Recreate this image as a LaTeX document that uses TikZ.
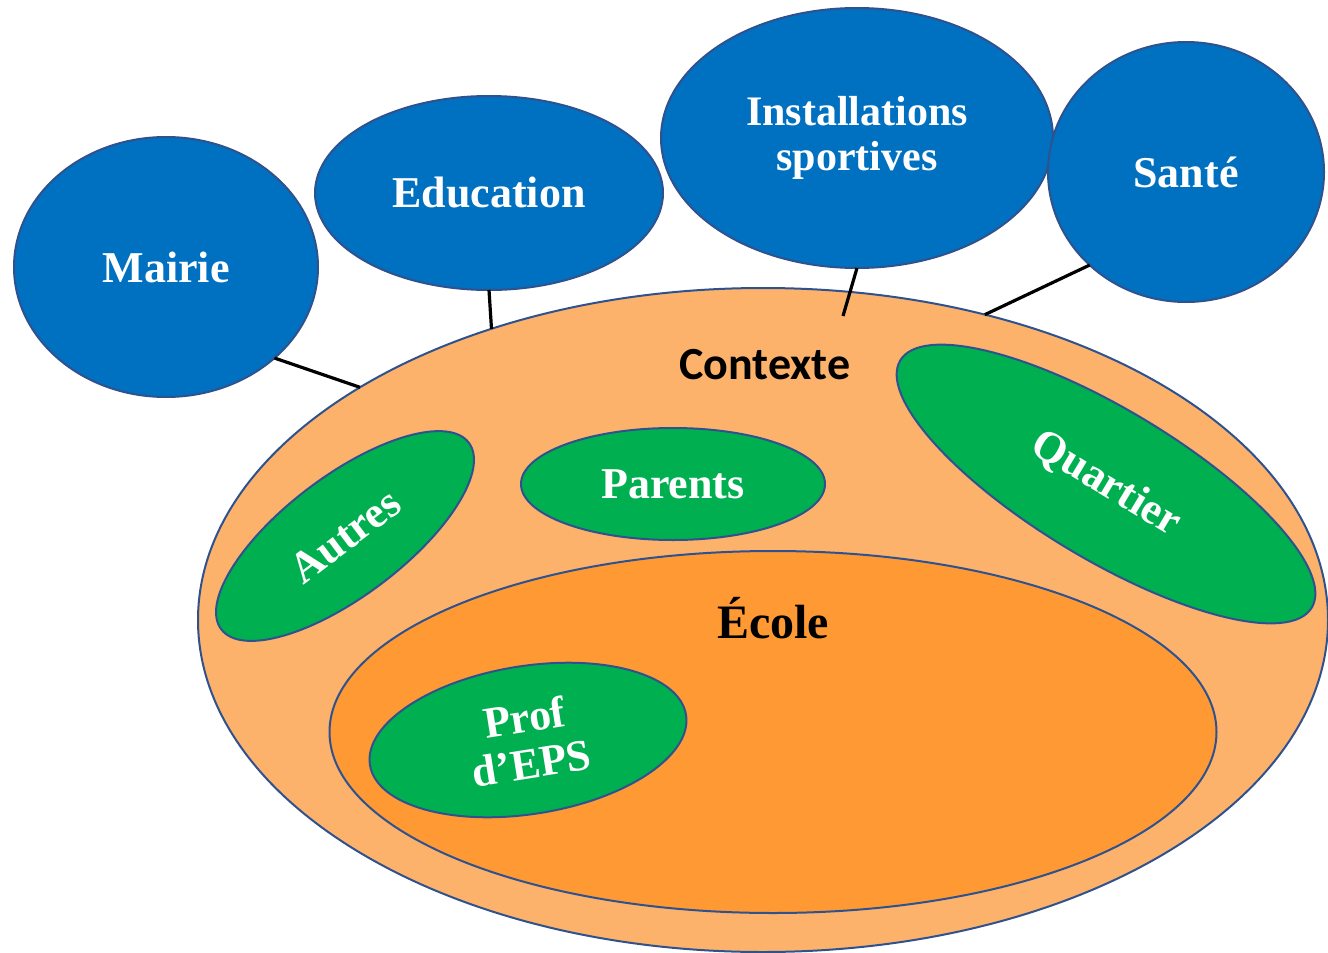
\documentclass[tikz,border=0pt]{standalone}
\usepackage{fontspec}
\setmainfont{Liberation Serif}
\newfontfamily\ctxfont{Carlito}
\usetikzlibrary{shapes.geometric}
\definecolor{bluefill}{HTML}{0070C0}
\definecolor{edgeblue}{HTML}{2F528F}
\definecolor{lightorange}{HTML}{FCB26A}
\definecolor{darkorange}{HTML}{FF9933}
\definecolor{greenfill}{HTML}{00B050}
\tikzset{
  blob/.style={ellipse, draw=edgeblue, line width=1pt, inner sep=0pt, outer sep=0pt,
    text=white, font=\bfseries\fontsize{22}{23}\selectfont, align=center},
  bluebubble/.style={blob, fill=bluefill},
  greenbubble/.style={blob, fill=greenfill},
  link/.style={draw=black, line width=1.6pt},
}
\begin{document}
\begin{tikzpicture}[x=0.5pt, y=-0.5pt]
\useasboundingbox (0,0) rectangle (1328,953);
\clip (0,0) rectangle (1328,953);
% context and school
\node[blob, fill=lightorange, minimum width=565pt, minimum height=332pt] (ctx) at (763,620) {};
\node[blob, fill=darkorange, minimum width=443.5pt, minimum height=181pt] (ecole) at (773,732) {};
\node[font=\ctxfont\bfseries\fontsize{23}{25}\selectfont, text=black] (ctxlabel) at (765,365) {Contexte};
\node[font=\bfseries\fontsize{24}{26}\selectfont, text=black] (ecolelabel) at (773,618) {École};
% green actors
\node[greenbubble, minimum width=160pt, minimum height=74pt, rotate=9] (prof) at (528,740) {Prof\\d’EPS};
\node[greenbubble, minimum width=152pt, minimum height=56pt] (parents) at (673,484) {Parents};
\node[greenbubble, minimum width=155pt, minimum height=60pt, rotate=37] (autres) at (345,536) {Autres};
\node[greenbubble, minimum width=240pt, minimum height=75pt, rotate=-31] (quartier) at (1106,484) {Quartier};
% blue partners
\node[bluebubble, minimum width=152pt, minimum height=130pt] (mairie) at (166,267) {Mairie};
\node[bluebubble, minimum width=174pt, minimum height=97pt] (education) at (489,193) {Education};
\node[bluebubble, minimum width=196pt, minimum height=130pt, font=\bfseries\fontsize{21}{22.5}\selectfont] (install) at (857,138) {Installations\\sportives};
\node[bluebubble, minimum width=138pt, minimum height=130pt] (sante) at (1186,172) {Santé};
% connectors
\coordinate (installend) at (843,316);
\draw[link] (mairie.-40) -- (ctx.150);
\draw[link] (education.-90) -- (ctx.133);
\draw[link] (install.-90) -- (installend);
\draw[link] (sante.-136) -- (ctx.54);
\end{tikzpicture}
\end{document}
